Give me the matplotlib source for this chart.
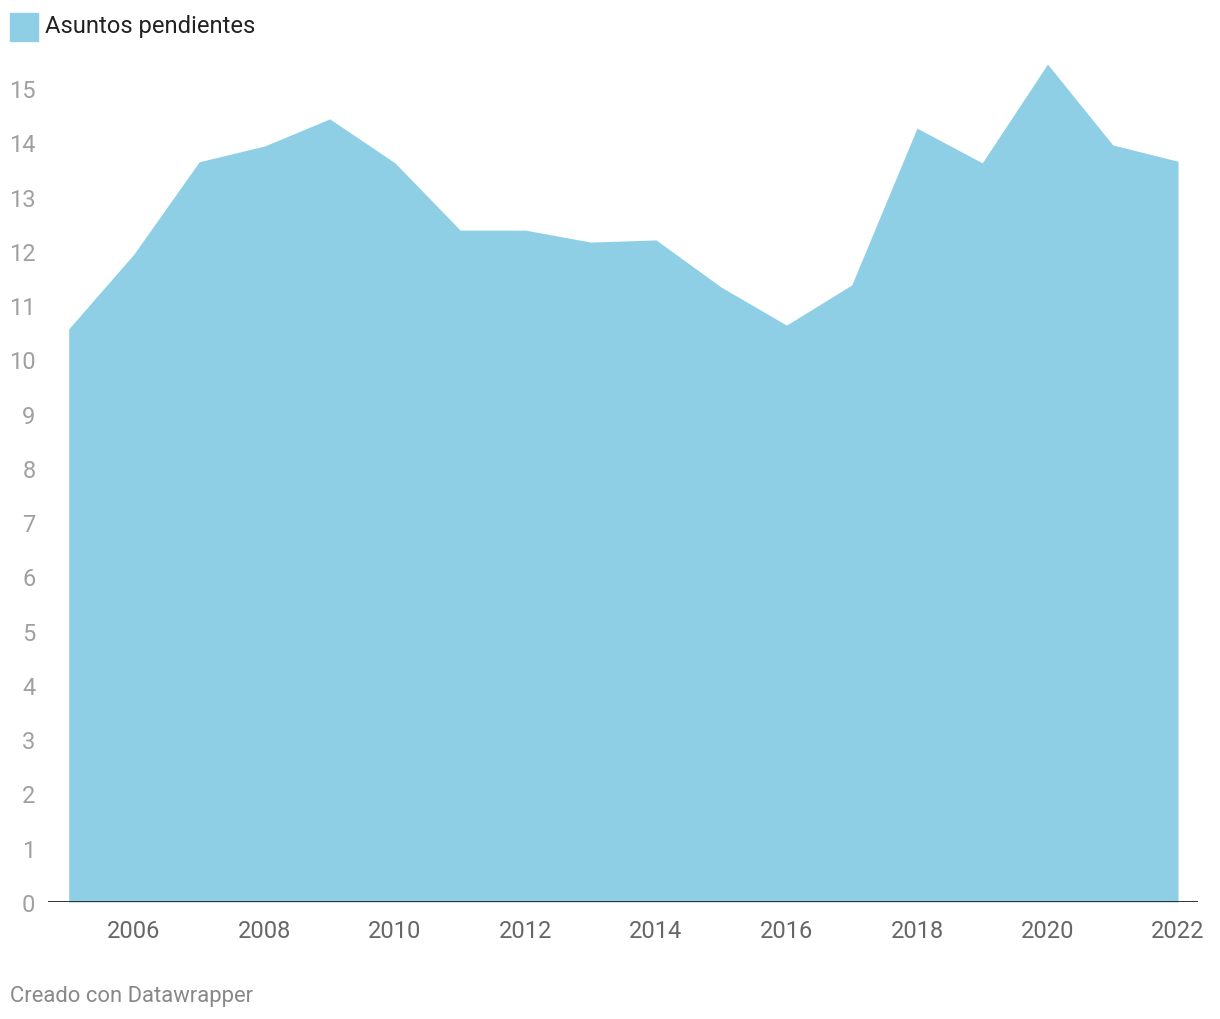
import matplotlib.pyplot as plt
from matplotlib.patches import Rectangle

plt.rcParams['font.family'] = ['Roboto', 'DejaVu Sans']

# datos
years = [2005, 2006, 2007, 2008, 2009, 2010, 2011, 2012, 2013,
         2014, 2015, 2016, 2017, 2018, 2019, 2020, 2021, 2022]
pendientes = [10.56, 11.94, 13.64, 13.93, 14.43, 13.62, 12.38, 12.38, 12.16,
              12.20, 11.33, 10.63, 11.37, 14.26, 13.62, 15.44, 13.95, 13.65]
xticks = [2006, 2008, 2010, 2012, 2014, 2016, 2018, 2020, 2022]
yticks = list(range(0, 16))

color = '#8ecfe6'

fig = plt.figure(figsize=(12.2, 10.2), dpi=100)
ax = fig.add_axes([0.0393, 0.1147, 0.9427, 0.83])

ax.fill_between(years, pendientes, 0, color=color, linewidth=0)
ax.axhline(0, color='#222222', linewidth=2, zorder=3)

ax.set_xlim(2004.682, 2022.307)
ax.set_ylim(0, 15.6)
ax.set_xticks(xticks)
ax.set_yticks(yticks)
ax.tick_params(axis='x', length=0, labelsize=17, labelcolor='#666666', pad=12)
ax.tick_params(axis='y', length=0, labelsize=17, labelcolor='#a0a0a0', pad=9)
for lab in ax.get_yticklabels():
    lab.set_horizontalalignment('right')
for s in ax.spines.values():
    s.set_visible(False)

# leyenda
fig.patches.append(Rectangle((10 / 1220, 1 - 42 / 1020), 28 / 1220, 28 / 1020,
                             transform=fig.transFigure, color=color))
fig.text(45 / 1220, 1 - 27 / 1020, 'Asuntos pendientes', fontsize=17.1,
         color='#222222', va='center', ha='left')

fig.text(10 / 1220, 1 - 997 / 1020, 'Creado con Datawrapper', fontsize=15.8,
         color='#888888', va='center', ha='left')

fig.savefig('out.png', dpi=100)
